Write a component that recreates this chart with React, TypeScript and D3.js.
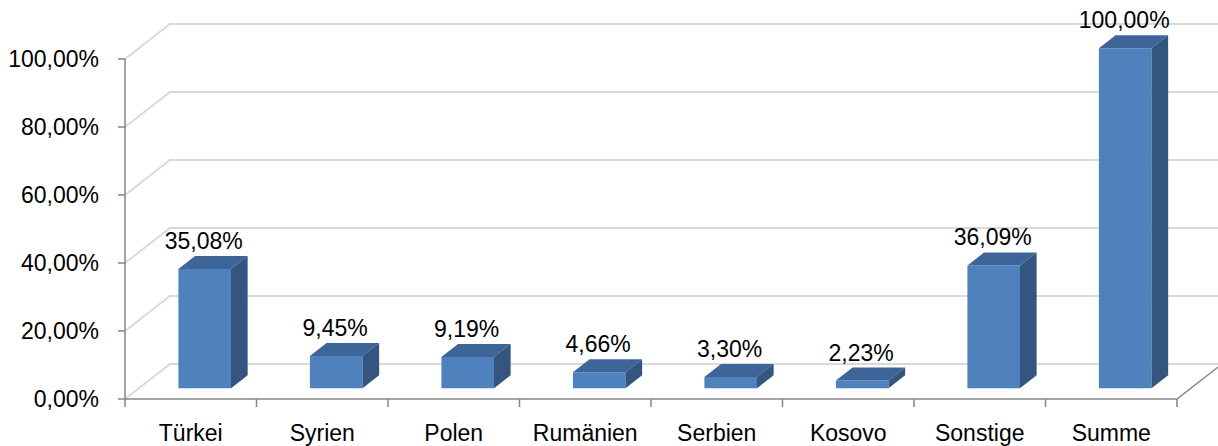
import React from "react";
import * as d3 from "d3";

const categories = ["Türkei", "Syrien", "Polen", "Rumänien", "Serbien", "Kosovo", "Sonstige", "Summe"];
const values = [35.08, 9.45, 9.19, 4.66, 3.3, 2.23, 36.09, 100.0];
const yTicks = [0, 20, 40, 60, 80, 100];

const width = 1218;
const height = 446;
const left = 125;
const right = 1177;
const bottom = 399;
const top = 59;
// depth of the 3d box
const depthX = 45;
const depthY = -35;

const fmt = (v: number) => v.toFixed(2).replace(".", ",") + "%";

export default function App() {
  const x = d3.scaleBand<string>().domain(categories).range([left, right]);
  const y = d3.scaleLinear([0, 100], [bottom, top]);
  const bw = x.bandwidth();

  // project a front-plane point into depth (0 = front, 1 = back wall)
  const p = (px: number, py: number, d: number) => [px + d * depthX, py + d * depthY];
  const pts = (arr: number[][]) => arr.map((a) => a.join(",")).join(" ");

  const f1 = 0.31;
  const f2 = 0.68;
  const font = "'Liberation Sans', Arial, sans-serif";

  return (
    <svg width={width} height={height} style={{ position: "fixed", left: 0, top: 0, background: "#fff" }}>
      {/* gridlines (side + back wall) */}
      {yTicks.map((t) => {
        const a = p(left, y(t), 0);
        const b = p(left, y(t), 1);
        return (
          <polyline
            key={t}
            points={pts([a, b, [width + 10, b[1]]])}
            fill="none"
            stroke="#d9d9d9"
            strokeWidth={2}
          />
        );
      })}
      {/* floor front and right edge */}
      <polyline
        points={pts([p(left, bottom, 0), p(right, bottom, 0), p(right, bottom, 1)])}
        fill="none"
        stroke="#868686"
        strokeWidth={1.5}
      />
      {/* value axis */}
      <line x1={left} x2={left} y1={y(0)} y2={y(100)} stroke="#868686" strokeWidth={1.5} />
      {yTicks.map((t) => (
        <g key={t}>
          <line x1={left - 7} x2={left} y1={y(t)} y2={y(t)} stroke="#868686" strokeWidth={1.5} />
          <text x={99} y={y(t)} dy="0.36em" textAnchor="end" fontFamily={font} fontSize={23} fill="#000">
            {fmt(t)}
          </text>
        </g>
      ))}
      {/* category ticks */}
      {categories.concat(["_end"]).map((c, i) => {
        const xx = left + i * bw;
        return <line key={c} x1={xx} x2={xx} y1={bottom} y2={bottom + 8} stroke="#868686" strokeWidth={1.5} />;
      })}
      {categories.map((c) => (
        <text key={c} x={(x(c) as number) + bw / 2} y={441} textAnchor="middle" fontFamily={font} fontSize={23} fill="#000">
          {c}
        </text>
      ))}
      {/* bars */}
      {categories.map((c, i) => {
        const v = values[i];
        const x0 = (x(c) as number) + bw * 0.3;
        const x1 = x0 + bw * 0.4;
        const yt = y(v);
        const yb = y(0);
        const flt = p(x0, yt, f1);
        const frt = p(x1, yt, f1);
        const frb = p(x1, yb, f1);
        const flb = p(x0, yb, f1);
        const brt = p(x1, yt, f2);
        const blt = p(x0, yt, f2);
        const brb = p(x1, yb, f2);
        return (
          <g key={c}>
            <polygon points={pts([flt, frt, frb, flb])} fill="#4f81bd" />
            <polygon points={pts([flt, frt, brt, blt])} fill="#3d6597" />
            <polygon points={pts([frt, brt, brb, frb])} fill="#33557f" />
            <text
              x={(flt[0] + frt[0]) / 2 - 1}
              y={blt[1] - 7}
              textAnchor="middle"
              fontFamily={font}
              fontSize={23}
              fill="#000"
            >
              {fmt(v)}
            </text>
          </g>
        );
      })}
    </svg>
  );
}
